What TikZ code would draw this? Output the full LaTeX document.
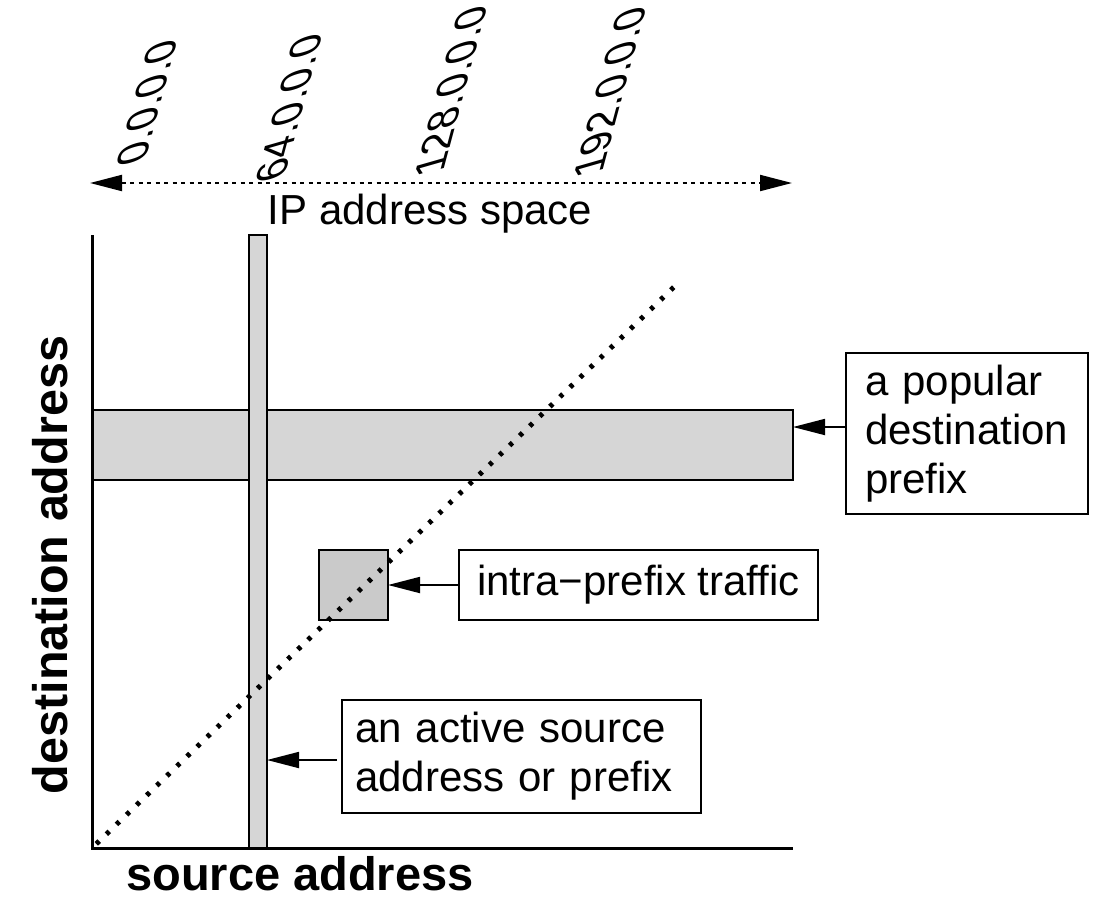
\documentclass[tikz,border=0pt]{standalone}
\usepackage{fontspec}
\setmainfont{Liberation Sans}
\usetikzlibrary{arrows.meta}
\definecolor{barfill}{RGB}{214,214,214}
\definecolor{sqfill}{RGB}{202,202,202}
\begin{document}
\begin{tikzpicture}[x=1pt,y=-1pt,
  txt/.style={font=\fontsize{42}{49}\selectfont},
  bold/.style={font=\fontsize{47}{56}\selectfont\bfseries},
  bar/.style={draw=black, line width=2pt, fill=barfill, inner sep=0pt, outer sep=0pt},
  callout/.style={draw=black, line width=1.6pt, fill=white, inner sep=0pt, outer sep=0pt, txt, align=left},
  ptr/.style={line width=1.8pt, -{Triangle[length=32pt,width=16pt]}},
  iplabel/.style={anchor=base west, inner sep=0pt, transform shape, txt},
  shearlbl/.style={cm={0.259,0.966,-1.029,-0.295,(0,0)}}
]
\useasboundingbox (0,0) rectangle (1094,903);

% bars
\node[bar, minimum width=701pt, minimum height=70pt] (hbar) at (442.5,445) {};
\node[bar, minimum width=18pt, minimum height=613pt] (vbar) at (258,541.5) {};
\node[bar, fill=sqfill, minimum width=69pt, minimum height=70pt] (sq) at (353.5,585) {};

% diagonal
\coordinate (d0) at (92,848);
\coordinate (d1) at (676,285);
\draw[line width=5pt, dash pattern=on 4pt off 10pt, dash phase=-6pt] (d0) -- (d1);

% axes
\coordinate (ytop) at (92,235);
\coordinate (orig) at (92,848);
\coordinate (xend) at (793,848);
\draw[line width=3pt] (ytop) -- (orig) -- (xend);

% axis labels
\node[bold, anchor=base] (xlab) at (300,890) {source address};
\node[font=\fontsize{48.5}{56}\selectfont\bfseries, anchor=base, rotate=90] (ylab) at (67,565) {destination address};

% IP address space arrow
\coordinate (ipL) at (90,183);
\coordinate (ipR) at (792,183);
\draw[line width=2pt, dash pattern=on 4pt off 4.5pt,
  {Triangle[length=32pt,width=16pt]}-{Triangle[length=32pt,width=16pt]}] (ipL) -- (ipR);
\node[txt, anchor=base] (ipspace) at (430,224) {IP address space};

% rotated address labels
\begin{scope}[shift={(145,161)}]
  \begin{scope}[shearlbl]\node[iplabel] (l0) at (0,0) {0.0.0.0};\end{scope}
\end{scope}
\begin{scope}[shift={(284,178)}]
  \begin{scope}[shearlbl]\node[iplabel] (l64) at (0,0) {64.0.0.0};\end{scope}
\end{scope}
\begin{scope}[shift={(443,172)}]
  \begin{scope}[shearlbl]\node[iplabel] (l128) at (0,0) {128.0.0.0};\end{scope}
\end{scope}
\begin{scope}[shift={(602,173)}]
  \begin{scope}[shearlbl]\node[iplabel] (l192) at (0,0) {192.0.0.0};\end{scope}
\end{scope}

% callouts
\node[callout, minimum width=242pt, minimum height=161pt, text width=204pt] (pop) at (967,433.5)
  {a popular\\destination\\prefix};
\node[callout, minimum width=359pt, minimum height=70pt, align=center] (intra) at (638.5,585)
  {intra\textminus prefix traffic};
\node[callout, minimum width=359pt, minimum height=113pt, text width=333pt] (act) at (521.5,756.5)
  {an active source\\address or prefix};

% pointers
\coordinate (popA) at (846,427);
\draw[ptr] (popA) -- (hbar.east |- popA);
\draw[ptr] (intra.west) -- (sq.east);
\coordinate (actA) at (337,760);
\draw[ptr] (actA) -- (vbar.east |- actA);
\end{tikzpicture}
\end{document}
